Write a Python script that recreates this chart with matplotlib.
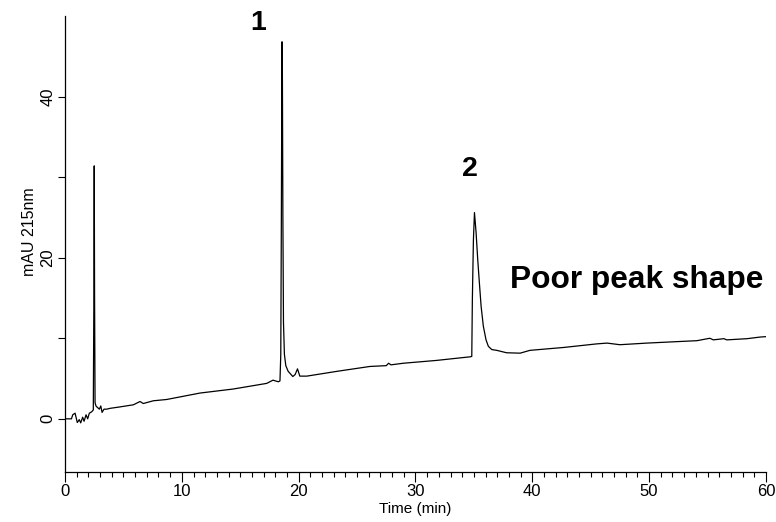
import matplotlib
matplotlib.use("Agg")
import matplotlib.pyplot as plt
from matplotlib.ticker import MultipleLocator, FixedLocator

plt.rcParams['font.family'] = ['Liberation Sans', 'DejaVu Sans']

# Chromatogram trace (time in min, signal in mAU)
time_min = [0.0, 0.55, 0.66, 0.86, 1.05, 1.22, 1.34, 1.51, 1.63, 1.80, 1.94, 2.08, 2.28, 2.42,
            2.47, 2.50, 2.53, 2.57, 2.65, 2.71, 2.94, 3.06, 3.17, 3.34, 3.57, 3.85, 4.57,
            5.85, 6.42, 6.70, 7.56, 8.70, 11.56, 14.40, 17.27, 17.80, 18.26, 18.40,
            18.47, 18.52, 18.56, 18.58, 18.61, 18.65, 18.70, 18.78, 18.90, 19.10, 19.50,
            19.70, 19.90, 20.10, 20.70, 23.30, 26.10, 27.50, 27.70, 27.90, 28.96, 31.80,
            34.70, 34.82, 34.87, 34.96, 35.05, 35.19, 35.33, 35.47, 35.62, 35.81, 36.04,
            36.24, 36.53, 36.96, 37.80, 38.96, 39.80, 42.70, 45.50, 46.40, 47.50, 49.80, 52.65,
            54.10, 55.20, 55.50, 56.40, 56.65, 58.40, 59.50, 60.00]
signal_mau = [0.0, 0.0, 0.5, 0.7, -0.46, -0.1, -0.5, 0.2, -0.3, 0.5, 0.0, 0.7, 0.87, 1.1,
              15.0, 31.4, 15.0, 2.0, 1.6, 1.5, 1.2, 1.6, 0.8, 1.2, 1.2, 1.3, 1.45,
              1.74, 2.15, 1.9, 2.24, 2.4, 3.2, 3.7, 4.4, 4.8, 4.6, 4.7,
              8.0, 25.0, 42.0, 46.8, 42.0, 25.0, 12.0, 8.0, 6.6, 5.9, 5.25,
              5.5, 6.2, 5.3, 5.3, 5.9, 6.5, 6.6, 6.9, 6.7, 6.9, 7.25,
              7.7, 7.75, 14.8, 22.2, 25.6, 23.1, 19.75, 16.9, 13.95, 11.5, 9.8,
              9.0, 8.6, 8.5, 8.2, 8.15, 8.5, 8.86, 9.3, 9.4, 9.2, 9.4, 9.6,
              9.7, 10.0, 9.8, 9.95, 9.8, 9.95, 10.15, 10.2]

peak_labels = ["1", "2"]
peak_label_x = [16.5, 34.7]
peak_label_y = [49.1, 31.0]
note_text = "Poor peak shape"

fig = plt.figure(figsize=(7.76, 5.22), dpi=100)
ax = fig.add_axes([0.0838, 0.0958, 0.9032, 0.8735])

ax.plot(time_min, signal_mau, color='black', linewidth=0.9)

ax.set_xlim(0, 60)
ax.set_ylim(-6.6, 50.0)

ax.spines['top'].set_visible(False)
ax.spines['right'].set_visible(False)
ax.spines['left'].set_linewidth(0.9)
ax.spines['bottom'].set_linewidth(0.9)

ax.xaxis.set_major_locator(MultipleLocator(10))
ax.xaxis.set_minor_locator(MultipleLocator(1))
ax.yaxis.set_major_locator(FixedLocator([0, 20, 40]))
ax.yaxis.set_minor_locator(FixedLocator([10, 30]))

ax.tick_params(axis='x', which='major', direction='out', length=7, width=0.8, labelsize=12, pad=2)
ax.tick_params(axis='x', which='minor', direction='out', length=3.5, width=0.8)
ax.tick_params(axis='y', which='both', direction='out', length=5, width=0.8, labelsize=12, pad=2)
for lab in ax.get_yticklabels():
    lab.set_rotation(90)
    lab.set_va('center')

ax.set_xlabel("Time (min)", fontsize=11, labelpad=2)
ax.set_ylabel("mAU 215nm", fontsize=11.5, labelpad=4)
ax.yaxis.set_label_coords(-0.04, 0.528)

for t, x, y in zip(peak_labels, peak_label_x, peak_label_y):
    ax.text(x, y, t, fontsize=20.5, fontweight='bold', ha='center', va='center')
ax.text(48.95, 17.2, note_text, fontsize=22.8, fontweight='bold', ha='center', va='center')

fig.savefig("out.png", dpi=100)
